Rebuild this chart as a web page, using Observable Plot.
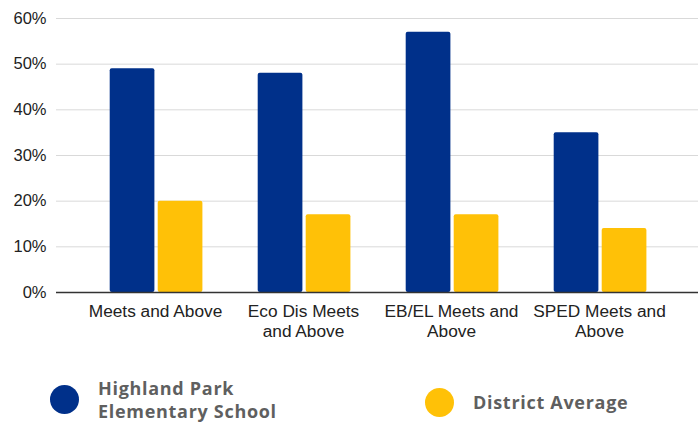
<!DOCTYPE html>
<html>
<head>
<meta charset="utf-8">
<script src="https://cdn.jsdelivr.net/npm/d3@7"></script>
<script src="https://cdn.jsdelivr.net/npm/@observablehq/plot@0.6"></script>
<style>
  html, body { margin: 0; padding: 0; background: #fff; }
  #wrap { position: relative; width: 698px; height: 423px; overflow: hidden; font-family: "Liberation Sans", Arial, sans-serif; }
  .leg { position: absolute; display: flex; align-items: center; font-family: "Open Sans", sans-serif; font-weight: 700; font-size: 18px; letter-spacing: 0.7px; color: #5f5f5f; }
  .leg .lines div { height: 22.5px; line-height: 22.5px; white-space: nowrap; }
  .dot { width: 29px; height: 29px; border-radius: 50%; margin-right: 19px; flex: none; }
</style>
</head>
<body>
<div id="wrap">
  <div id="chart"></div>
  <div class="leg" style="left:50px; top:377px;"><span class="dot" style="background:#00308A"></span><span class="lines"><div>Highland Park</div><div>Elementary School</div></span></div>
  <div class="leg" style="left:425px; top:388px;"><span class="dot" style="background:#FFC107"></span><span class="lines"><div>District Average</div></span></div>
</div>
<script>
const categories = ["Meets and Above", "Eco Dis Meets\nand Above", "EB/EL Meets and\nAbove", "SPED Meets and\nAbove"];
const highlandPark = [49, 48, 57, 35];
const districtAverage = [20, 17, 17, 14];
const yTicks = [0, 10, 20, 30, 40, 50, 60];

const hp = categories.map((c, i) => ({category: c, value: highlandPark[i]}));
const da = categories.map((c, i) => ({category: c, value: districtAverage[i]}));

const chart = Plot.plot({
  width: 698,
  height: 345,
  marginLeft: 56,
  marginRight: 0,
  marginTop: 18,
  marginBottom: 53,
  style: {fontFamily: "'Liberation Sans', Arial, sans-serif", background: "#fff"},
  x: {domain: categories, paddingInner: 0, paddingOuter: 0.164},
  y: {domain: [0, 60]},
  marks: [
    Plot.ruleY(yTicks.filter(d => d > 0), {stroke: "#d9d9d9", strokeWidth: 1}),
    Plot.barY(hp, {x: "category", y: "value", fill: "#00308A", insetLeft: 28.7, insetRight: 74.6, rx: 2}),
    Plot.barY(da, {x: "category", y: "value", fill: "#FFC107", insetLeft: 76.7, insetRight: 26.6, rx: 2}),
    Plot.ruleY([0], {stroke: "#333", strokeWidth: 1.3}),
    Plot.axisY({ticks: yTicks, tickSize: 0, tickPadding: 10, tickFormat: d => d + "%", fontSize: 16.5, fill: "#222", label: null}),
    Plot.axisX({tickSize: 0, tickPadding: 10, fontSize: 17.3, fill: "#222", lineHeight: 1.18, label: null})
  ]
});
document.getElementById("chart").appendChild(chart);
</script>
</body>
</html>
